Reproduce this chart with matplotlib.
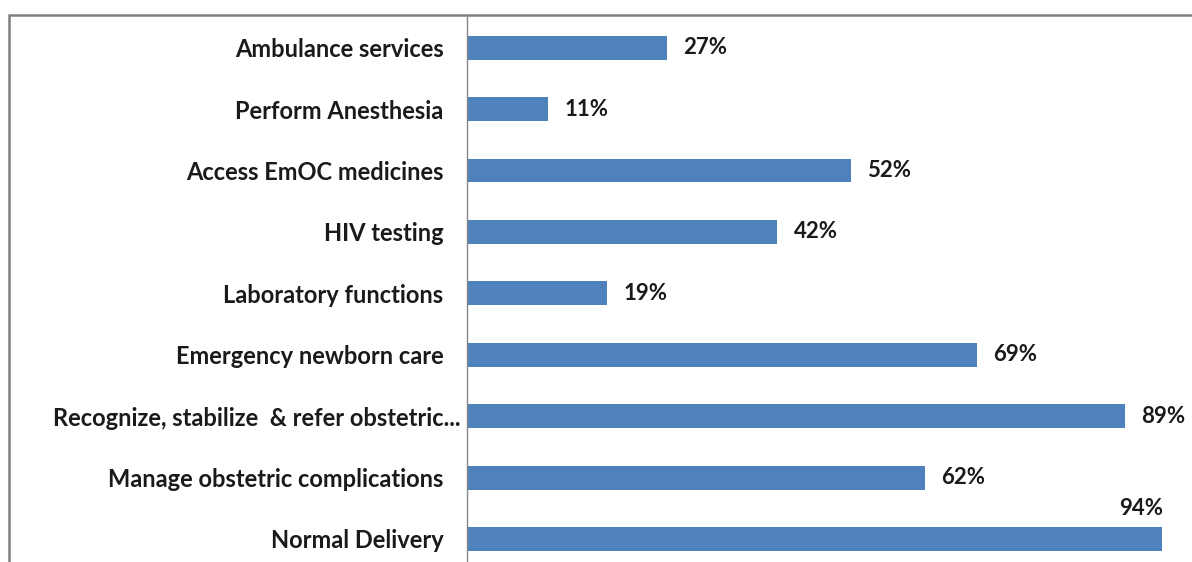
import matplotlib
matplotlib.use('Agg')
import matplotlib.pyplot as plt
import matplotlib.transforms as mtransforms
from matplotlib.patches import Rectangle

categories = ['Ambulance services', 'Perform Anesthesia', 'Access EmOC medicines',
              'HIV testing', 'Laboratory functions', 'Emergency newborn care',
              'Recognize, stabilize  & refer obstetric...',
              'Manage obstetric complications', 'Normal Delivery']
values = [27, 11, 52, 42, 19, 69, 89, 62, 94]

bar_color = '#4F81BD'
plt.rcParams['font.family'] = ['Lato', 'DejaVu Sans']

W, H = 1192, 562
fig = plt.figure(figsize=(W / 100, H / 100), dpi=100)
ax = fig.add_axes([467 / W, 0, (W - 467) / W, (H - 17) / H])

y = list(range(len(categories)))
ax.barh(y, values, height=0.39, color=bar_color)
ax.set_xlim(0, 98.1)
ax.set_ylim(8.375, -0.5)

for i, v in enumerate(values):
    if v > 90:
        ax.text(v - 2.8, i - 0.5, f'{v}%', ha='center', va='center',
                fontsize=16, fontweight='bold', color='#1a1a1a')
    else:
        ax.text(v + 2.2, i, f'{v}%', ha='left', va='center',
                fontsize=16, fontweight='bold', color='#1a1a1a')

ax.set_yticks(y)
ax.set_yticklabels(categories, fontsize=17, fontweight='bold', color='#1a1a1a')
ax.tick_params(axis='y', length=0, pad=17)
# the truncated label sits closer to the axis
lbl = ax.get_yticklabels()[6]
lbl.set_transform(lbl.get_transform() +
                  mtransforms.ScaledTranslation(0.17, 0, fig.dpi_scale_trans))
ax.set_xticks([])
for s in ['top', 'right', 'bottom']:
    ax.spines[s].set_visible(False)
ax.spines['left'].set_color('#868686')
ax.spines['left'].set_linewidth(1.0)

# outer chart frame
fig.patches.append(Rectangle((8.5 / W, -0.1), 2.0, 1 - 14.5 / H + 0.1,
                             transform=fig.transFigure, fill=False,
                             edgecolor='#808080', linewidth=1.8))

fig.savefig('out.png', dpi=100)
